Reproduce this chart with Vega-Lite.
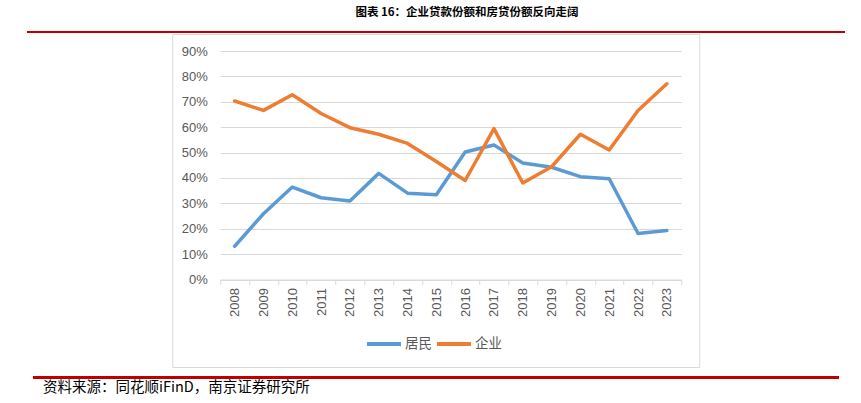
{
  "$schema": "https://vega.github.io/schema/vega-lite/v6.json",
  "background": "white",
  "padding": {"top": 6, "left": 27, "right": 0, "bottom": 0},
  "title": {"text": "图表 16：企业贷款份额和房贷份额反向走阔", "font": "Noto Sans CJK SC", "fontSize": 11.5, "fontWeight": "bold", "color": "#000000", "anchor": "middle", "dx": 31, "offset": 13},
  "config": {"view": {"stroke": null}, "axis": {"labelFont": "Liberation Sans"}},
  "datasets": {
    "share": [
      {"year": "2008", "series": "居民", "value": 0.131},
      {"year": "2009", "series": "居民", "value": 0.259},
      {"year": "2010", "series": "居民", "value": 0.364},
      {"year": "2011", "series": "居民", "value": 0.322},
      {"year": "2012", "series": "居民", "value": 0.309},
      {"year": "2013", "series": "居民", "value": 0.418},
      {"year": "2014", "series": "居民", "value": 0.340},
      {"year": "2015", "series": "居民", "value": 0.334},
      {"year": "2016", "series": "居民", "value": 0.502},
      {"year": "2017", "series": "居民", "value": 0.530},
      {"year": "2018", "series": "居民", "value": 0.459},
      {"year": "2019", "series": "居民", "value": 0.442},
      {"year": "2020", "series": "居民", "value": 0.405},
      {"year": "2021", "series": "居民", "value": 0.397},
      {"year": "2022", "series": "居民", "value": 0.181},
      {"year": "2023", "series": "居民", "value": 0.193},
      {"year": "2008", "series": "企业", "value": 0.703},
      {"year": "2009", "series": "企业", "value": 0.666},
      {"year": "2010", "series": "企业", "value": 0.728},
      {"year": "2011", "series": "企业", "value": 0.654},
      {"year": "2012", "series": "企业", "value": 0.598},
      {"year": "2013", "series": "企业", "value": 0.572},
      {"year": "2014", "series": "企业", "value": 0.536},
      {"year": "2015", "series": "企业", "value": 0.465},
      {"year": "2016", "series": "企业", "value": 0.390},
      {"year": "2017", "series": "企业", "value": 0.594},
      {"year": "2018", "series": "企业", "value": 0.380},
      {"year": "2019", "series": "企业", "value": 0.444},
      {"year": "2020", "series": "企业", "value": 0.572},
      {"year": "2021", "series": "企业", "value": 0.510},
      {"year": "2022", "series": "企业", "value": 0.666},
      {"year": "2023", "series": "企业", "value": 0.771}
    ]
  },
  "spacing": 0,
  "center": true,
  "vconcat": [
    {
      "width": 818, "height": 2,
      "view": {"fill": "#C00000", "stroke": null},
      "data": {"values": []},
      "mark": "rule",
      "encoding": {}
    },
    {
      "spacing": 8,
      "center": true,
      "vconcat": [
        {
          "width": 527, "height": 333,
          "view": {"stroke": "#D9D9D9", "strokeWidth": 1, "fill": "white"},
          "data": {"name": "share"},
          "mark": {"type": "line", "strokeWidth": 3.5, "strokeCap": "round", "strokeJoin": "round"},
          "encoding": {
            "x": {
              "field": "year", "type": "ordinal",
              "scale": {"type": "band", "range": [48, 509], "paddingInner": 0, "paddingOuter": 0},
              "axis": {"title": null, "offset": -87.5, "domainColor": "#D9D9D9", "tickColor": "#D9D9D9", "tickSize": 5, "tickBand": "extent", "labelAngle": -90, "labelPadding": 3, "labelFontSize": 13, "labelColor": "#595959", "grid": false}
            },
            "y": {
              "field": "value", "type": "quantitative",
              "scale": {"domain": [0, 0.9], "range": [245.5, 17], "nice": false},
              "axis": {"title": null, "offset": -48, "domain": false, "ticks": false, "values": [0, 0.1, 0.2, 0.3, 0.4, 0.5, 0.6, 0.7, 0.8, 0.9], "format": ".0%", "labelPadding": 13, "labelFontSize": 13, "labelColor": "#595959", "grid": true, "gridColor": "#D9D9D9"}
            },
            "color": {
              "field": "series", "type": "nominal",
              "scale": {"domain": ["居民", "企业"], "range": ["#5B9BD5", "#ED7D31"]},
              "legend": {"title": null, "orient": "none", "legendX": 338, "legendY": 294, "direction": "horizontal", "symbolType": "stroke", "symbolSize": 1156, "symbolStrokeWidth": 4, "labelFont": "Noto Sans CJK SC", "labelFontSize": 13.5, "labelColor": "#595959", "labelOffset": 2, "columnPadding": -3}
            }
          }
        },
        {
          "width": 806, "height": 3,
          "view": {"fill": "#C00000", "stroke": null},
          "data": {"values": []},
          "mark": "rule",
          "encoding": {},
          "title": {"text": "资料来源：同花顺iFinD，南京证券研究所", "orient": "bottom", "anchor": "start", "font": "Noto Sans CJK SC", "fontSize": 14.5, "fontWeight": "normal", "color": "#000000", "dx": 10, "offset": 2}
        }
      ]
    }
  ]
}
